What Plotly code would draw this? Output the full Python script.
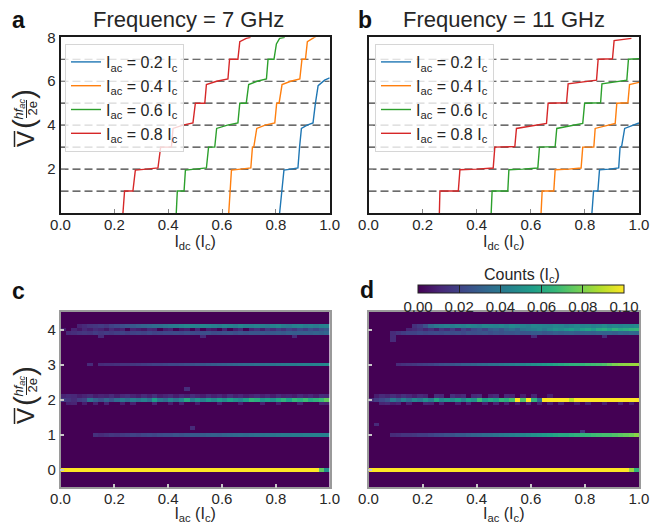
import numpy as np
import plotly.graph_objects as go

OFF = 8                      # page body margin in the browser
W, H = 663 - OFF, 524 - OFF  # figure fits the window exactly
FONT = "Liberation Sans, Arial, sans-serif"
TXT = "#262626"

# ---------------- data: staircases, 7 GHz (panel a) ----------------
iac_labels = ["0.2", "0.4", "0.6", "0.8"]
line_colors = ["#1f77b4", "#ff7f0e", "#2ca02c", "#d62728"]

a02_i = [0.814, 0.822, 0.830, 0.856, 0.882, 0.888, 0.895, 0.916, 0.938, 0.947, 0.957, 0.981, 1.0]
a02_v = [0.0, 1.0, 1.95, 2.0, 2.05, 3.0, 3.85, 4.0, 4.1, 5.0, 5.8, 6.05, 6.15]
a04_i = [0.625, 0.630, 0.635, 0.670, 0.707, 0.713, 0.718, 0.729, 0.760, 0.796, 0.803, 0.812, 0.823, 0.855, 0.889, 0.897, 0.910, 0.917, 0.942, 0.950]
a04_v = [0.0, 1.0, 1.95, 2.0, 2.05, 3.0, 3.0, 3.85, 4.0, 4.1, 5.0, 5.0, 5.85, 6.0, 6.1, 7.0, 7.0, 7.8, 8.0, 8.05]
a06_i = [0.430, 0.434, 0.459, 0.464, 0.500, 0.542, 0.550, 0.573, 0.580, 0.620, 0.659, 0.666, 0.690, 0.699, 0.730, 0.765, 0.771, 0.793, 0.802, 0.814, 0.833]
a06_v = [0.0, 1.0, 1.0, 1.95, 2.0, 2.05, 3.0, 3.0, 3.85, 4.0, 4.1, 5.0, 5.0, 5.85, 6.0, 6.1, 7.0, 7.0, 7.7, 7.95, 8.0]
a08_i = [0.232, 0.238, 0.269, 0.278, 0.320, 0.362, 0.372, 0.412, 0.418, 0.455, 0.492, 0.501, 0.536, 0.542, 0.580, 0.622, 0.628, 0.659, 0.666, 0.690, 0.706]
a08_v = [0.0, 1.0, 1.0, 1.95, 2.0, 2.05, 3.0, 3.0, 3.85, 4.0, 4.1, 5.0, 5.0, 5.85, 6.0, 6.1, 7.0, 7.0, 7.8, 7.95, 8.0]

# ---------------- data: staircases, 11 GHz (panel b) ----------------
b02_i = [0.826, 0.832, 0.848, 0.854, 0.890, 0.925, 0.930, 0.936, 0.947, 1.0]
b02_v = [0.0, 1.0, 1.0, 1.97, 2.0, 2.05, 3.0, 3.05, 3.85, 4.1]
b04_i = [0.638, 0.642, 0.685, 0.690, 0.740, 0.786, 0.792, 0.833, 0.838, 0.875, 0.912, 0.918, 0.959, 0.965, 1.0]
b04_v = [0.0, 1.0, 1.0, 1.97, 2.0, 2.05, 3.0, 3.0, 3.85, 3.95, 4.08, 5.0, 5.02, 5.85, 5.95]
b06_i = [0.4535, 0.457, 0.515, 0.519, 0.570, 0.626, 0.632, 0.690, 0.696, 0.740, 0.792, 0.799, 0.858, 0.863, 0.910, 0.955, 0.961, 1.0]
b06_v = [0.0, 1.0, 1.0, 1.97, 2.0, 2.05, 3.0, 3.02, 3.85, 3.95, 4.08, 5.0, 5.02, 5.88, 5.95, 6.05, 7.0, 7.03]
b08_i = [0.262, 0.264, 0.332, 0.338, 0.400, 0.461, 0.467, 0.541, 0.547, 0.600, 0.658, 0.664, 0.732, 0.738, 0.790, 0.843, 0.849, 0.902, 0.908, 0.972]
b08_v = [0.0, 1.0, 1.0, 1.97, 2.0, 2.05, 3.0, 3.02, 3.85, 3.95, 4.08, 5.0, 5.02, 5.88, 5.95, 6.05, 7.0, 7.02, 7.85, 7.95]

dashed_levels = [1, 2, 3, 4, 5, 6, 7]
x_tick_vals = [0.0, 0.2, 0.4, 0.6, 0.8, 1.0]
x_tick_text = ["0.0", "0.2", "0.4", "0.6", "0.8", "1.0"]
top_y_ticks = [2, 4, 6, 8]
bot_y_ticks = [0, 1, 2, 3, 4]
cbar_ticks = [0.0, 0.02, 0.04, 0.06, 0.08, 0.10]
cbar_text = ["0.00", "0.02", "0.04", "0.06", "0.08", "0.10"]

# ---------------- data: histograms (counts x100), 50 I_ac bins ----------------
band_levels = [0.0, 1.0, 1.9, 2.0, 2.1, 3.0, 3.9, 4.0, 4.1]

c_v0 = [10, 10, 10, 10, 10, 10, 10, 10, 10, 10,
        10, 10, 10, 10, 10, 10, 10, 10, 10, 10,
        10, 10, 10, 10, 10, 10, 10, 10, 10, 10,
        10, 10, 10, 10, 10, 10, 10, 10, 10, 10,
        10, 10, 10, 10, 10, 10, 10, 10, 7.5, 5.0]
c_v1 = [0, 0, 0, 0, 0, 0, 1.4, 1.2, 1.4, 1.6,
        1.5, 1.7, 1.8, 2.0, 1.9, 2.1, 2.2, 2.1, 2.3, 2.4,
        2.4, 2.6, 2.5, 2.7, 2.8, 2.8, 2.9, 3.0, 3.1, 3.0,
        3.2, 3.3, 3.4, 3.5, 3.4, 3.6, 3.7, 3.8, 3.9, 3.9,
        4.0, 4.1, 4.1, 4.2, 4.2, 4.3, 4.3, 4.4, 4.4, 4.5]
c_v19 = [0, 0.9, 1.0, 0, 0.8, 0, 0.9, 0, 1.0, 0,
         0, 0.8, 0, 0.9, 0, 0, 0, 1.0, 0, 0,
         0.8, 0, 0.9, 0, 0, 0.8, 0, 0, 0, 0.9,
         0, 0, 0, 0.8, 0, 0, 0, 0.9, 0, 0,
         0.8, 0, 0, 0, 0.9, 0, 0, 0, 1.0, 0.9]
c_v20 = [1.8, 1.5, 1.2, 1.8, 2.0, 3.8, 3.0, 2.5, 3.2, 2.6,
         3.4, 4.0, 3.5, 4.2, 3.8, 4.4, 3.6, 5.5, 4.0, 3.5,
         4.5, 3.8, 4.6, 6.0, 4.2, 5.0, 4.4, 5.2, 4.6, 5.4,
         4.8, 5.6, 5.0, 4.6, 5.5, 6.5, 6.2, 5.2, 5.6, 5.0,
         5.8, 6.4, 5.6, 6.6, 6.2, 6.8, 6.0, 6.4, 6.8, 7.5]
c_v21 = [1.0, 1.2, 1.1, 0.8, 1.0, 1.2, 0.8, 1.0, 0.9, 1.2,
         0.8, 1.1, 1.3, 1.0, 0.8, 1.2, 0.9, 1.4, 0.8, 1.0,
         1.2, 0.8, 1.1, 0.9, 1.3, 1.0, 0.8, 1.2, 0.9, 1.1,
         0.8, 1.3, 0.9, 1.1, 0.8, 1.0, 1.2, 0.9, 1.1, 0.8,
         1.2, 0.9, 1.0, 0.8, 1.2, 0.9, 1.1, 0.8, 1.3, 1.2]
c_v3 = [0, 0, 0, 0, 0, 1.2, 0, 1.2, 1.3, 1.3,
        1.4, 1.5, 1.5, 1.6, 1.7, 1.8, 1.9, 2.0, 2.0, 2.1,
        2.2, 2.2, 2.3, 2.4, 2.5, 2.6, 2.7, 2.8, 2.9, 3.0,
        3.1, 3.2, 3.3, 3.4, 3.5, 3.6, 3.7, 3.7, 3.8, 3.9,
        4.0, 4.1, 4.2, 4.2, 4.3, 4.4, 4.4, 4.5, 4.6, 4.8]
c_v39 = [0, 1.2, 1.3, 1.5, 1.6, 1.5, 1.8, 1.6, 1.8, 1.7,
         1.9, 2.0, 1.8, 2.0, 2.1, 2.0, 2.2, 2.0, 2.1, 2.2,
         2.2, 2.3, 2.2, 2.4, 2.3, 2.2, 2.4, 2.5, 2.3, 2.4,
         2.5, 2.6, 2.4, 2.6, 2.5, 2.7, 2.6, 2.8, 2.7, 2.8,
         2.9, 2.8, 3.0, 2.9, 3.0, 3.1, 3.0, 3.2, 3.1, 3.3]
c_v40 = [0.8, 0, 1.0, 0.6, 1.1, 0.8, 1.2, 1.0, 0.6, 1.2,
         0.8, 1.0, 0, 1.0, 0.8, 0.6, 1.1, 1.0, 0, 0.8,
         1.0, 0, 0.6, 0.8, 0, 1.0, 0, 0.8, 0.6, 0,
         1.0, 0, 0.8, 1.2, 0, 1.0, 1.4, 0.8, 1.6, 1.2,
         1.8, 1.4, 2.0, 1.6, 2.2, 1.8, 2.4, 2.0, 2.5, 2.8]
c_v41 = [0, 0, 0, 1.0, 1.2, 1.5, 1.6, 1.8, 1.6, 2.0,
         2.2, 2.4, 2.6, 2.8, 3.0, 3.2, 3.3, 3.5, 3.6, 3.8,
         4.0, 4.2, 4.4, 4.6, 4.5, 4.4, 4.6, 4.5, 4.3, 4.2,
         4.5, 4.4, 4.2, 4.6, 4.4, 4.3, 4.5, 4.2, 4.0, 4.4,
         4.6, 4.2, 4.0, 4.4, 4.5, 4.2, 4.3, 4.1, 4.4, 4.5]
c_stray_i = [0.15, 0.52, 0.86, 0.465, 0.49]
c_stray_v = [3.8, 3.8, 3.8, 2.3, 1.2]
c_stray_val = [1.2, 1.2, 1.2, 1.3, 1.2]

d_v0 = [10, 10, 10, 10, 10, 10, 10, 10, 10, 10,
        10, 10, 10, 10, 10, 10, 10, 10, 10, 10,
        10, 10, 10, 10, 10, 10, 10, 10, 10, 10,
        10, 10, 10, 10, 10, 10, 10, 10, 10, 10,
        10, 10, 10, 10, 10, 10, 10, 10, 8.5, 6.5]
d_v1 = [0, 0, 0, 0, 1.2, 1.3, 1.5, 1.5, 1.6, 1.8,
        1.8, 2.0, 2.2, 2.3, 2.5, 2.5, 2.8, 2.8, 3.0, 3.2,
        3.3, 3.5, 3.6, 3.8, 4.0, 4.2, 4.3, 4.5, 4.6, 4.8,
        5.0, 5.2, 5.4, 5.6, 5.8, 6.0, 6.0, 6.2, 6.4, 6.5,
        6.6, 6.8, 6.9, 7.0, 7.0, 7.2, 7.4, 7.6, 7.8, 8.2]
d_v19 = [0, 0, 1.0, 1.1, 0.8, 1.0, 0, 0.9, 0, 0,
         1.0, 0.9, 0, 1.0, 0, 0, 0.9, 0, 1.0, 0,
         0, 0.9, 0, 1.0, 0, 0.9, 0, 0.8, 0, 1.0,
         0, 0.9, 0, 0.8, 0, 0.9, 0, 0, 0.8, 0,
         0.9, 0, 0, 0.8, 0, 0, 0.9, 0, 0.8, 0]
d_v20 = [1.2, 1.8, 2.2, 2.6, 4.0, 3.2, 4.4, 3.5, 4.6, 4.0,
         5.0, 4.2, 5.8, 4.6, 5.2, 4.8, 5.5, 4.5, 5.6, 5.0,
         6.8, 5.4, 6.0, 5.6, 6.6, 6.2, 7.0, 10, 7.2, 10,
         6.5, 3.5, 10, 10, 10, 10, 10, 9.0, 10, 10,
         10, 10, 10, 10, 10, 10, 10, 10, 10, 10]
d_v21 = [0, 0.8, 1.2, 1.0, 1.3, 1.0, 1.4, 1.1, 0.8, 1.2,
         1.0, 0, 1.3, 1.1, 0, 1.4, 1.0, 1.2, 0, 1.1,
         1.3, 0, 1.0, 1.2, 0, 1.1, 1.0, 0, 0.8, 0,
         1.0, 0, 0, 0.8, 0, 0, 0, 0, 0, 0,
         0, 0, 0, 0, 0, 0, 0, 0, 0, 0]
d_v3 = [0, 0, 0, 0, 0, 1.2, 1.4, 1.5, 1.6, 1.8,
        1.9, 2.0, 2.2, 2.4, 2.5, 2.6, 2.8, 3.0, 3.1, 3.2,
        3.4, 3.5, 3.7, 3.8, 4.0, 4.2, 4.3, 4.5, 4.6, 4.8,
        5.0, 5.2, 5.4, 5.6, 5.8, 6.0, 6.2, 6.4, 6.5, 6.6,
        6.8, 6.9, 7.0, 7.2, 7.6, 8.0, 8.2, 8.3, 8.4, 8.5]
d_v39 = [0, 0, 0, 0, 1.2, 1.5, 1.8, 2.0, 2.0, 2.2,
         2.1, 2.2, 2.3, 2.2, 2.4, 2.3, 2.4, 2.2, 2.5, 2.4,
         2.5, 2.6, 2.4, 2.6, 2.5, 2.7, 2.6, 2.8, 2.6, 2.7,
         2.8, 2.9, 2.7, 2.8, 3.0, 2.9, 3.0, 3.1, 2.9, 3.0,
         3.1, 3.0, 3.2, 3.1, 3.2, 3.0, 3.3, 3.2, 3.4, 3.3]
d_v40 = [0, 0, 0, 0, 0, 0, 0, 1.0, 1.2, 1.5,
         1.0, 1.4, 0.8, 1.6, 1.2, 1.8, 1.0, 2.0, 1.5, 2.2,
         2.5, 2.0, 2.8, 3.0, 2.6, 3.2, 3.5, 3.0, 3.8, 4.0,
         4.2, 4.5, 4.0, 4.6, 5.0, 4.8, 5.2, 5.5, 5.0, 5.6,
         5.8, 5.4, 6.0, 6.2, 5.8, 6.4, 6.0, 6.2, 6.5, 6.6]
d_v41 = [0, 0, 0, 0, 0, 0, 0, 0, 1.4, 1.8,
         2.5, 3.5, 4.0, 4.2, 4.4, 4.2, 4.5, 4.3, 4.6, 4.4,
         4.2, 4.6, 4.5, 4.4, 4.6, 4.3, 4.7, 4.5, 4.4, 4.2,
         4.6, 4.5, 4.4, 4.3, 4.6, 4.5, 4.2, 4.4, 4.7, 4.5,
         4.6, 4.3, 4.5, 4.8, 4.4, 4.6, 4.5, 4.7, 4.6, 4.8]
d_stray_i = [0.03, 0.09, 0.09, 0.60, 0.86, 0.795]
d_stray_v = [1.3, 3.7, 3.8, 3.8, 3.8, 1.1]
d_stray_val = [1.2, 1.2, 1.2, 1.2, 1.2, 1.5]

# ---------------- helpers ----------------
N_COLS = 50
COL_W = 0.02
ROW_H = 0.1
x_centers = (np.arange(N_COLS) + 0.5) * COL_W
y_centers = np.round(np.arange(-5, 46) * ROW_H, 1)


def build_z(rows, s_i, s_v, s_val):
    z = np.zeros((len(y_centers), N_COLS))
    for lev, row in zip(band_levels, rows):
        k = int(round((lev - y_centers[0]) / ROW_H))
        z[k, :] = np.array(row, dtype=float) / 100.0
    for i, v, val in zip(s_i, s_v, s_val):
        k = int(round((v - y_centers[0]) / ROW_H))
        c = min(int(i / COL_W), N_COLS - 1)
        z[k, c] = val / 100.0
    return z


def px(x):
    return (x - OFF) / W


def py(y):
    return 1 - (y - OFF) / H


z_c = build_z([c_v0, c_v1, c_v19, c_v20, c_v21, c_v3, c_v39, c_v40, c_v41],
              c_stray_i, c_stray_v, c_stray_val)
z_d = build_z([d_v0, d_v1, d_v19, d_v20, d_v21, d_v3, d_v39, d_v40, d_v41],
              d_stray_i, d_stray_v, d_stray_val)

fig = go.Figure()

a_series = [(a02_i, a02_v), (a04_i, a04_v), (a06_i, a06_v), (a08_i, a08_v)]
b_series = [(b02_i, b02_v), (b04_i, b04_v), (b06_i, b06_v), (b08_i, b08_v)]

for (xs, ys), lab, col in zip(a_series, iac_labels, line_colors):
    fig.add_trace(go.Scatter(x=xs, y=ys, mode="lines", line=dict(color=col, width=1.4),
                             name=f"I<sub>ac</sub> = {lab} I<sub>c</sub>",
                             xaxis="x", yaxis="y", legend="legend"))
for (xs, ys), lab, col in zip(b_series, iac_labels, line_colors):
    fig.add_trace(go.Scatter(x=xs, y=ys, mode="lines", line=dict(color=col, width=1.4),
                             name=f"I<sub>ac</sub> = {lab} I<sub>c</sub>",
                             xaxis="x2", yaxis="y2", legend="legend2"))

fig.add_trace(go.Heatmap(x=x_centers, y=y_centers, z=z_c, coloraxis="coloraxis",
                         xaxis="x3", yaxis="y3", showlegend=False))
fig.add_trace(go.Heatmap(x=x_centers, y=y_centers, z=z_d, coloraxis="coloraxis",
                         xaxis="x4", yaxis="y4", showlegend=False))

shapes = []
for xr, yr in (("x", "y"), ("x2", "y2")):
    for lev in dashed_levels:
        shapes.append(dict(type="line", xref=xr, yref=yr, x0=0, x1=1, y0=lev, y1=lev,
                           line=dict(color="#3c3c3c", width=1.2, dash="8px,4px"), layer="below"))

annotations = []


def ann(text, x, y, size, bold=False, angle=0, color=TXT):
    annotations.append(dict(text=f"<b>{text}</b>" if bold else text, x=px(x), y=py(y),
                            xref="paper", yref="paper", showarrow=False, borderpad=0,
                            xanchor="center", yanchor="middle", textangle=angle,
                            font=dict(size=size, color=color, family=FONT)))


# panel letters and titles
ann("a", 18, 20, 23, bold=True, color="#111")
ann("b", 365, 20, 23, bold=True, color="#111")
ann("c", 18, 291, 23, bold=True, color="#111")
ann("d", 367, 290, 23, bold=True, color="#111")
ann("Frequency = 7 GHz", 188, 19, 22)
ann("Frequency = 11 GHz", 504, 19, 22)
ann("Counts (I<sub>c</sub>)", 522, 275, 16)


def ylabel(off):
    ann("V", 25, 139 + off, 24, angle=-90)
    ann("(", 24, 124 + off, 30, angle=-90)
    ann("<i>hf</i><sub><i>ac</i></sub>", 18.5, 109 + off, 13, angle=-90)
    ann("2e", 32, 108.5 + off, 13, angle=-90)
    ann(")", 24, 94 + off, 30, angle=-90)
    shapes.append(dict(type="line", xref="paper", yref="paper", x0=px(14.5), x1=px(14.5),
                       y0=py(131 + off), y1=py(147 + off), line=dict(color=TXT, width=1.5)))
    shapes.append(dict(type="line", xref="paper", yref="paper", x0=px(26.5), x1=px(26.5),
                       y0=py(100 + off), y1=py(118 + off), line=dict(color=TXT, width=1)))


ylabel(0)
ylabel(277)

ax_font = dict(size=15, color=TXT, family=FONT)
xa_dom = [px(60.5), px(329.7)]
xb_dom = [px(368.5), px(639)]
top_dom = [py(213), py(37.3)]
bot_dom = [py(487.3), py(312)]

frame_top = dict(showline=True, mirror=True, linecolor="#1a1a1a", linewidth=2,
                 showgrid=False, zeroline=False, ticks="inside", ticklen=4,
                 tickcolor="#888", tickfont=ax_font, automargin=False)
frame_bot = dict(showline=True, mirror=True, linecolor="#9a9a9a", linewidth=1.5,
                 showgrid=False, zeroline=False, ticks="inside", ticklen=4,
                 tickcolor="#c8c8c8", tickwidth=1.5, tickfont=ax_font, automargin=False)

xt_dc = dict(text="I<sub>dc</sub> (I<sub>c</sub>)", font=dict(size=16, color=TXT, family=FONT), standoff=0)
xt_ac = dict(text="I<sub>ac</sub> (I<sub>c</sub>)", font=dict(size=16, color=TXT, family=FONT), standoff=0)
xlab_shift = dict(ticklabelstandoff=-3)

fig.update_layout(
    template="none",
    width=W, height=H, margin=dict(l=0, r=0, t=0, b=0, pad=0, autoexpand=False),
    paper_bgcolor="white", plot_bgcolor="white",
    font=dict(family=FONT, color=TXT),
    xaxis=dict(domain=xa_dom, anchor="y", range=[0, 1], tickvals=x_tick_vals, ticktext=x_tick_text,
               title=xt_dc, **xlab_shift, **frame_top),
    yaxis=dict(domain=top_dom, anchor="x", range=[0, 8], tickvals=top_y_ticks, **frame_top),
    xaxis2=dict(domain=xb_dom, anchor="y2", range=[0, 1], tickvals=x_tick_vals, ticktext=x_tick_text,
                title=xt_dc, **xlab_shift, **frame_top),
    yaxis2=dict(domain=top_dom, anchor="x2", range=[0, 8], tickvals=top_y_ticks, showticklabels=False,
                **frame_top),
    xaxis3=dict(domain=xa_dom, anchor="y3", range=[0, 1], tickvals=x_tick_vals, ticktext=x_tick_text,
                title=xt_ac, **xlab_shift, **frame_bot),
    yaxis3=dict(domain=bot_dom, anchor="x3", range=[-0.5, 4.5], tickvals=bot_y_ticks, **frame_bot),
    xaxis4=dict(domain=xb_dom, anchor="y4", range=[0, 1], tickvals=x_tick_vals, ticktext=x_tick_text,
                title=xt_ac, **xlab_shift, **frame_bot),
    yaxis4=dict(domain=bot_dom, anchor="x4", range=[-0.5, 4.5], tickvals=bot_y_ticks,
                showticklabels=False, **frame_bot),
    coloraxis=dict(colorscale="Viridis", cmin=0, cmax=0.1,
                   colorbar=dict(orientation="h", x=px(521), xanchor="center", len=206 / W,
                                 lenmode="fraction", thickness=8, y=py(285), yanchor="top",
                                 ypad=0, xpad=0,
                                 tickvals=cbar_ticks, ticktext=cbar_text, ticks="inside",
                                 ticklen=8, tickcolor="#222", tickwidth=1,
                                 tickfont=dict(size=15, color=TXT, family=FONT),
                                 outlinecolor="#222", outlinewidth=1)),
    legend=dict(x=px(65), y=py(44), xanchor="left", yanchor="top",
                bgcolor="rgba(255,255,255,0.8)", bordercolor="#d6d6d6", borderwidth=1,
                font=dict(size=16, color=TXT, family=FONT), tracegroupgap=0),
    legend2=dict(x=px(375), y=py(44), xanchor="left", yanchor="top",
                 bgcolor="rgba(255,255,255,0.8)", bordercolor="#d6d6d6", borderwidth=1,
                 font=dict(size=16, color=TXT, family=FONT), tracegroupgap=0),
    shapes=shapes,
    annotations=annotations,
)

fig.write_html("out.html")
